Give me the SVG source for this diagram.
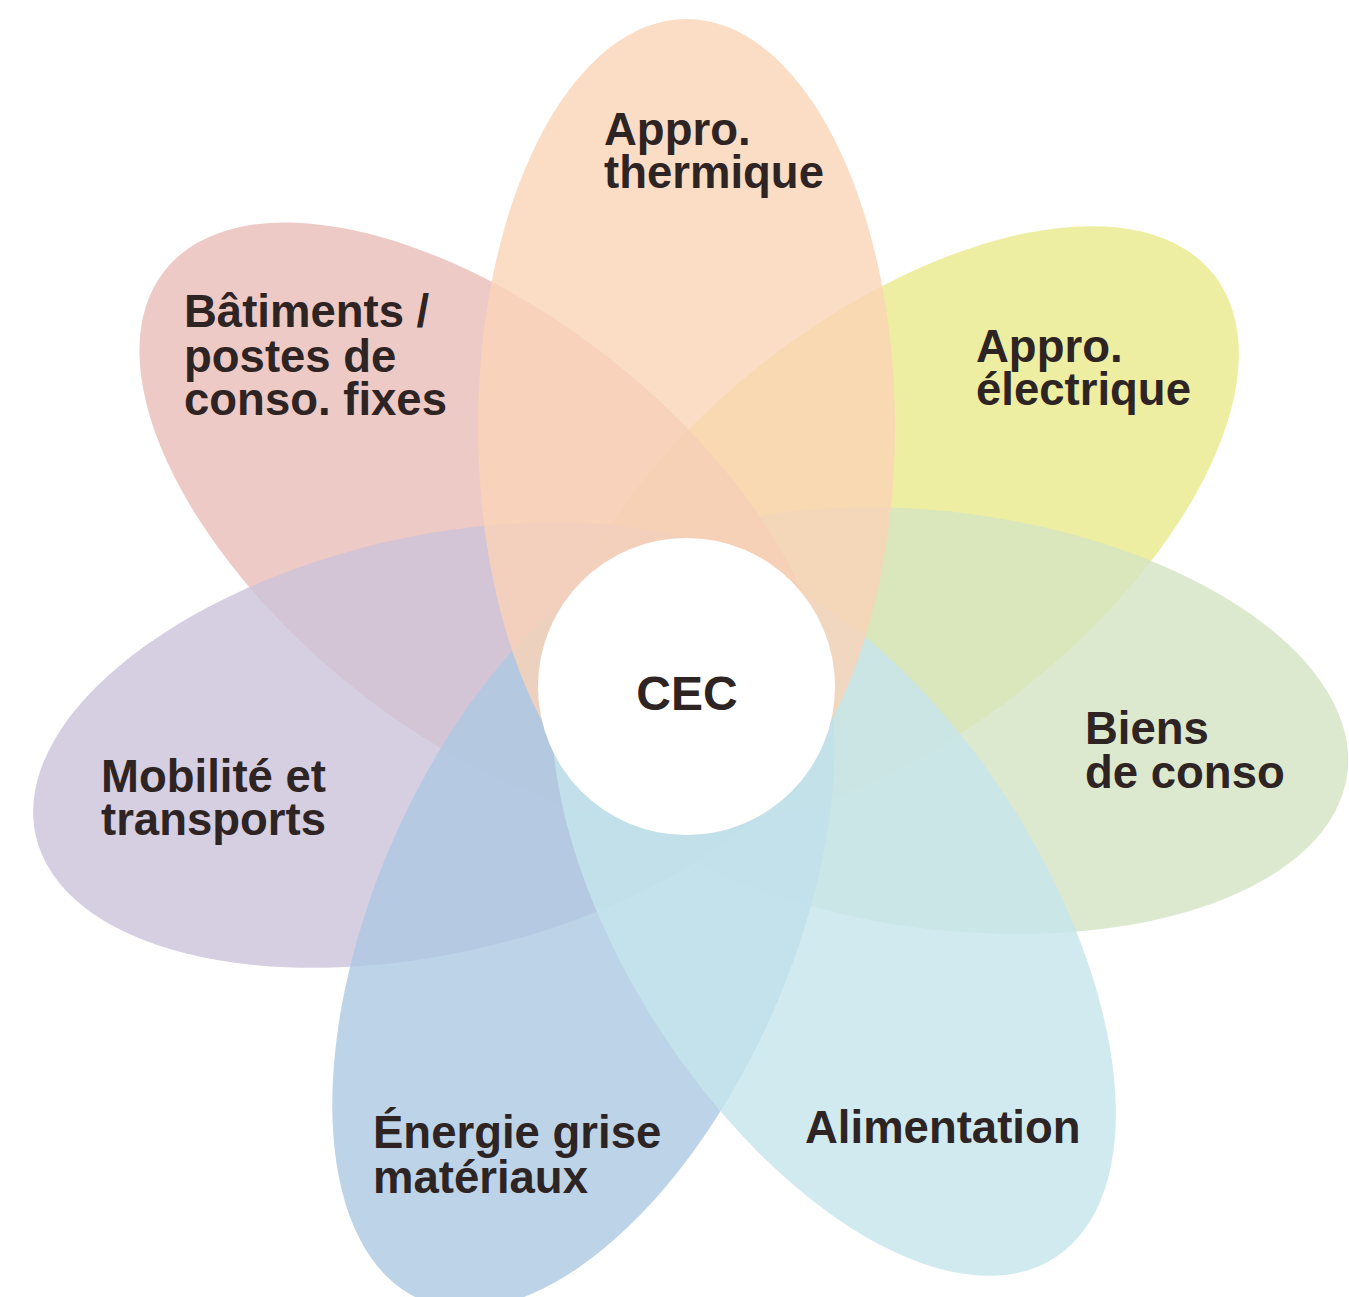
<svg xmlns="http://www.w3.org/2000/svg" width="1349" height="1297" viewBox="0 0 1349 1297">
  <style>
    .petal { fill-opacity: 0.8; }
    .lbl { font-family: "Liberation Sans", Arial, Helvetica, sans-serif; font-weight: bold; font-size: 45.5px; fill: #2e2423; }
    .big { font-size: 48px; }
  </style>
  <defs>
    <ellipse id="petalShape" cx="0" cy="-260" rx="208.5" ry="408"/>
  </defs>
  <rect width="1349" height="1297" fill="#ffffff"/>
  <g id="petals" transform="translate(687 687)">
    <g id="appro-electrique"><use href="#petalShape" class="petal" fill="#E9EA8B" transform="rotate(52) translate(0 -1)"/></g>
    <g id="biens-de-conso"><use href="#petalShape" class="petal" fill="#D5E4C3" transform="rotate(97.5) translate(0 2)"/></g>
    <g id="batiments"><use href="#petalShape" class="petal" fill="#EABDB8" transform="rotate(308.6)"/></g>
    <g id="mobilite"><use href="#petalShape" class="petal" fill="#CCC2DA" transform="rotate(257.1)"/></g>
    <g id="energie-grise"><use href="#petalShape" class="petal" fill="#ADC9E2" transform="rotate(203.5)"/></g>
    <g id="alimentation"><use href="#petalShape" class="petal" fill="#C6E5EC" transform="rotate(147.2) translate(0 -11)"/></g>
    <g id="appro-thermique"><use href="#petalShape" class="petal" fill="#FAD3B7" transform="translate(-0.5 0)"/></g>
  </g>
  <g id="connectors"></g>
  <g id="center">
    <circle cx="686.5" cy="686.5" r="148.5" fill="#ffffff"/>
    <text class="lbl big" x="687" y="710" text-anchor="middle">CEC</text>
  </g>
  <g id="label-thermique">
    <text class="lbl" x="604" y="145">Appro.</text>
    <text class="lbl" x="604" y="188">thermique</text>
  </g>
  <g id="label-electrique">
    <text class="lbl" x="976" y="362">Appro.</text>
    <text class="lbl" x="976" y="405">électrique</text>
  </g>
  <g id="label-biens">
    <text class="lbl" x="1085" y="744">Biens</text>
    <text class="lbl" x="1085" y="788">de conso</text>
  </g>
  <g id="label-alimentation">
    <text class="lbl" x="805" y="1143">Alimentation</text>
  </g>
  <g id="label-energie">
    <text class="lbl" x="373" y="1148">Énergie grise</text>
    <text class="lbl" x="373" y="1193">matériaux</text>
  </g>
  <g id="label-mobilite">
    <text class="lbl" x="101" y="792">Mobilité et</text>
    <text class="lbl" x="101" y="835">transports</text>
  </g>
  <g id="label-batiments">
    <text class="lbl" x="184" y="327">Bâtiments /</text>
    <text class="lbl" x="184" y="372">postes de</text>
    <text class="lbl" x="184" y="415">conso. fixes</text>
  </g>
</svg>
